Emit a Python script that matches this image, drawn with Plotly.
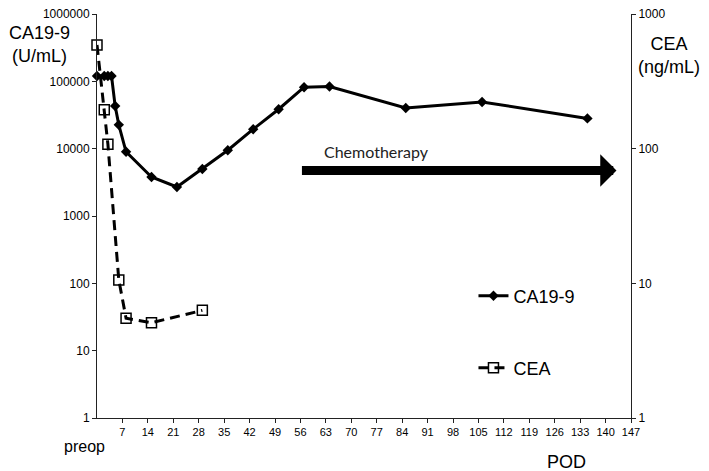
import math
import plotly.graph_objects as go

# ---- data ----
ca_days = [0, 2, 3, 4, 5, 6, 8, 15, 22, 29, 36, 43, 50, 57, 64, 85, 106, 135]
ca199 = [120000, 120000, 120000, 120000, 43000, 22600, 9000, 3800, 2700, 5000,
         9500, 19500, 38600, 82000, 84000, 40300, 49500, 28200]

cea_days = [0, 2, 3, 6, 8, 15, 29]
cea = [590, 195, 108, 10.6, 5.5, 5.1, 6.3]

x_ticks = list(range(7, 148, 7))
left_ticks = [1, 10, 100, 1000, 10000, 100000, 1000000]
right_ticks = [1, 10, 100, 1000]

chemo_start, chemo_end = 56, 143
chemo_level = 4750  # CA19-9 scale level of the arrow

FONT = "Liberation Sans, Arial, Helvetica, sans-serif"

fig = go.Figure()
fig.add_trace(go.Scatter(
    x=ca_days, y=ca199, name="CA19-9", mode="lines+markers",
    line=dict(color="black", width=3),
    marker=dict(symbol="diamond", size=8, color="black"),
    cliponaxis=False, legend="legend", showlegend=True, yaxis="y"))
fig.add_trace(go.Scatter(
    x=cea_days, y=cea, name="CEA", mode="lines+markers",
    line=dict(color="black", width=3, dash="10px,6px"),
    marker=dict(symbol="square-open", size=10, color="black",
                line=dict(width=1.5, color="black")),
    cliponaxis=False, legend="legend2", showlegend=True, yaxis="y2"))

fig.add_annotation(
    x=chemo_end, y=math.log10(chemo_level), ax=chemo_start, ay=math.log10(chemo_level),
    xref="x", yref="y", axref="x", ayref="y", text="", showarrow=True,
    arrowhead=1, arrowwidth=9, arrowsize=0.6, arrowcolor="black", standoff=0)
fig.add_annotation(
    x=chemo_start + 6, y=math.log10(chemo_level), xref="x", yref="y",
    text="Chemotherapy", showarrow=False, xanchor="left", yanchor="bottom", yshift=7,
    font=dict(family="Lato, Open Sans, sans-serif", size=16, color="#222"))

fig.add_annotation(x=-0.1086, y=0.9245, xref="paper", yref="paper",
                   xanchor="center", yanchor="middle",
                   text="CA19-9<br>(U/mL)", showarrow=False,
                   font=dict(family=FONT, size=18, color="black"))
fig.add_annotation(x=1.0712, y=0.8973, xref="paper", yref="paper",
                   xanchor="center", yanchor="middle",
                   text="CEA<br>(ng/mL)", showarrow=False,
                   font=dict(family=FONT, size=18, color="black"))
fig.add_annotation(x=-0.0238, y=-0.0710, xref="paper", yref="paper",
                   xanchor="center", yanchor="middle",
                   text="preop", showarrow=False,
                   font=dict(family=FONT, size=16, color="black"))
fig.add_annotation(x=0.880, y=-0.1089, xref="paper", yref="paper",
                   xanchor="center", yanchor="middle",
                   text="POD", showarrow=False,
                   font=dict(family=FONT, size=18, color="black"))

axis_common = dict(showline=True, linecolor="#222", linewidth=1, ticks="outside",
                   ticklen=4, tickcolor="#222", showgrid=False, zeroline=False,
                   automargin=False)

fig.update_layout(
    width=693, height=463,
    margin=dict(l=89, r=70, t=6, b=53, autoexpand=False),
    paper_bgcolor="white", plot_bgcolor="white",
    font=dict(family=FONT, color="black"),
    showlegend=True,
    xaxis=dict(range=[0, 147], tickvals=x_ticks,
               ticktext=[str(t) for t in x_ticks],
               tickfont=dict(family=FONT, size=11, color="black"), **axis_common),
    yaxis=dict(type="log", range=[0, 6.001], tickvals=left_ticks,
               ticktext=[str(t) for t in left_ticks], ticklabeloverflow="allow",
               tickfont=dict(family=FONT, size=12, color="black"), **axis_common),
    yaxis2=dict(type="log", range=[0, 3.0005], overlaying="y", side="right",
                tickvals=right_ticks, ticktext=[str(t) for t in right_ticks],
                ticklabeloverflow="allow",
                tickfont=dict(family=FONT, size=12, color="black"), **axis_common),
    legend=dict(x=0.705, y=0.302, xanchor="left", yanchor="middle",
                bgcolor="rgba(0,0,0,0)", itemwidth=30,
                font=dict(family=FONT, size=18, color="black")),
    legend2=dict(x=0.705, y=0.1238, xanchor="left", yanchor="middle",
                 bgcolor="rgba(0,0,0,0)", itemwidth=30,
                 font=dict(family=FONT, size=18, color="black")),
)

fig.write_html("out.html")
